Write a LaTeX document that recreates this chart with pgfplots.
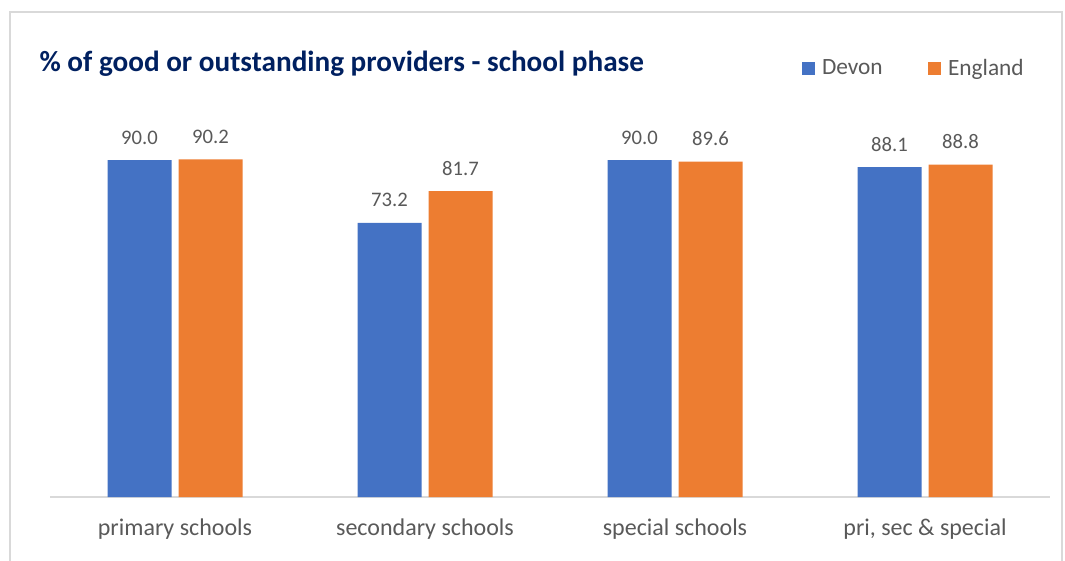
\documentclass[border=0pt]{standalone}
\usepackage{pgfplots}
\pgfplotsset{compat=1.18}
\usepackage{fontspec}
\setmainfont{Carlito}
\definecolor{devon}{HTML}{4472C4}
\definecolor{england}{HTML}{ED7D31}
\definecolor{txt}{HTML}{595959}
\definecolor{ttl}{HTML}{002060}
\definecolor{grid}{HTML}{D9D9D9}
\begin{document}
\begin{tikzpicture}
\useasboundingbox (0,0) rectangle (798.75pt,-420.75pt);
\draw[grid, line width=1.2pt] (7.5pt,-9pt) rectangle (796.5pt,-428pt);
\node[anchor=base west, inner sep=0, text=ttl, font=\fontsize{21.9pt}{26pt}\selectfont\bfseries] at (29.5pt,-53.5pt) {\% of good or outstanding providers - school phase};
\begin{axis}[
  at={(37.5pt,-372.75pt)}, anchor=south west,
  scale only axis, width=750pt, height=280.8pt,
  xmin=-0.5, xmax=3.5, ymin=0, ymax=100,
  enlargelimits=false,
  axis x line*=bottom, axis y line=none,
  x axis line style={grid, line width=1.3pt, -},
  xtick=data,
  xticklabels={primary schools, secondary schools, special schools, {pri, sec \& special}},
  major tick length=0pt,
  xticklabel style={anchor=base, inner sep=0pt, yshift=-28.5pt, text=txt, font=\fontsize{18pt}{21pt}\selectfont},
  ybar=5.25pt, bar width=48pt,
  /pgf/number format/assume math mode=true,
  nodes near coords={\pgfmathprintnumber[fixed,fixed zerofill,precision=1,assume math mode=true]{\pgfplotspointmeta}},
  every node near coord/.append style={anchor=base, inner sep=0pt, yshift=12pt, text=txt, font=\fontsize{15.5pt}{18pt}\selectfont},
  legend columns=2,
  legend style={at={(0.752,1.145)}, anchor=west, draw=none, fill=none, inner sep=0pt, outer sep=0pt,
    font=\fontsize{17.5pt}{21pt}\selectfont, text=txt,
    /tikz/every even column/.append style={column sep=34pt},
    nodes={inner sep=0pt, outer sep=0pt, text=txt}},
  legend image code/.code={\fill[#1] (0pt,-4.9pt) rectangle (9.8pt,4.9pt); \path (15pt,0pt);},
]
\addplot[draw=none, fill=devon] coordinates {(0,90.0) (1,73.2) (2,90.0) (3,88.1)};
\addplot[draw=none, fill=england] coordinates {(0,90.2) (1,81.7) (2,89.6) (3,88.8)};
\legend{Devon, England}
\end{axis}
\end{tikzpicture}
\end{document}
